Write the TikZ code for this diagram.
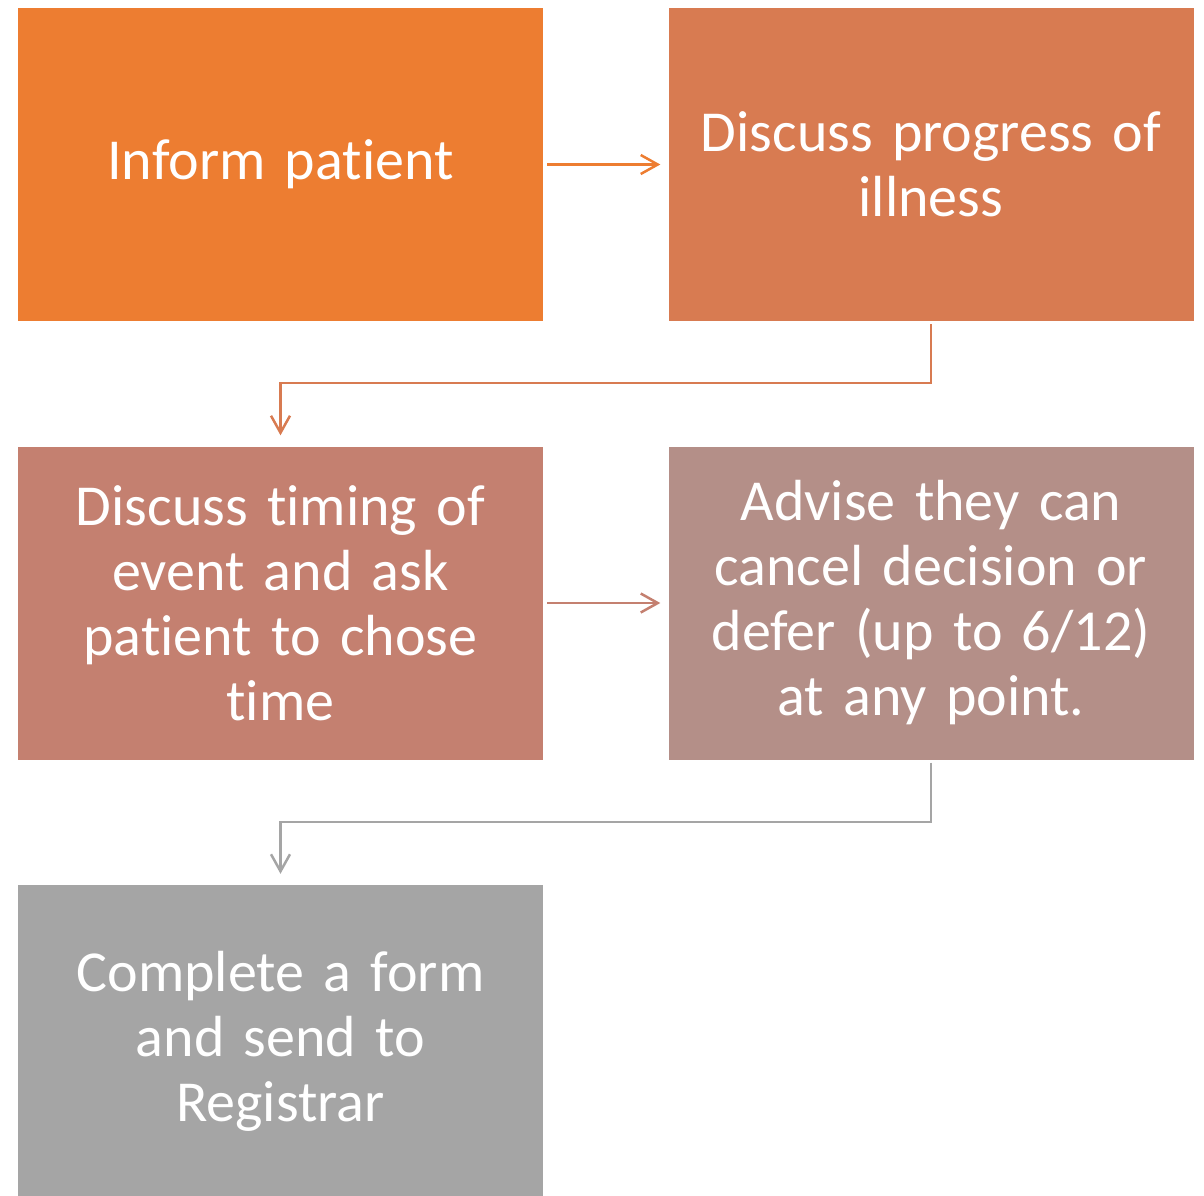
\documentclass[tikz,border=0pt]{standalone}
\usepackage{fontspec}
\setmainfont{Carlito}[Ligatures=NoCommon, WordSpace=0.85]
\usetikzlibrary{arrows.meta}
\definecolor{cA}{HTML}{ED7D31}
\definecolor{cB}{HTML}{D87B51}
\definecolor{cC}{HTML}{C48070}
\definecolor{cD}{HTML}{B48F88}
\definecolor{cE}{HTML}{A5A5A5}
\tikzset{
  box/.style={minimum width=525pt, minimum height=313pt, inner sep=0pt, text width=520pt, align=center, text=white,
    font=\fontsize{58}{65}\selectfont},
  conn/.style={line width=2.5pt, -{Straight Barb[length=17pt,width=19pt,line width=2.5pt]}}
}
\begin{document}
\begin{tikzpicture}[x=1pt,y=1pt]
\useasboundingbox (0,0) rectangle (1204,-1195);
\clip (0,0) rectangle (1204,-1195);
\node[box, fill=cA] (b1) at (280.5,-164.5) {Inform patient};
\node[box, fill=cB] (b2) at (931,-164.5) {Discuss progress of\\illness};
\node[box, fill=cC] (b3) at (280.5,-603) {Discuss timing of\\event and ask\\patient to chose\\time};
\node[box, fill=cD] (b4) at (931,-603) {Advise they can\\cancel decision or\\defer (up to 6/12)\\at any point.};
\node[box, fill=cE] (b5) at (280.5,-1041.5) {Complete a form\\and send to\\Registrar};
\draw[conn, cA, shorten <=4pt, shorten >=8pt] (b1.east) -- (b2.west);
\draw[conn, cC, shorten <=4pt, shorten >=8pt] (b3.east) -- (b4.west);
\draw[conn, cB, shorten <=3pt, shorten >=11pt] (b2.south) |- (931,-383) -| (b3.north);
\draw[conn, cE, shorten <=3pt, shorten >=11pt] (b4.south) |- (931,-822) -| (b5.north);
\end{tikzpicture}
\end{document}
